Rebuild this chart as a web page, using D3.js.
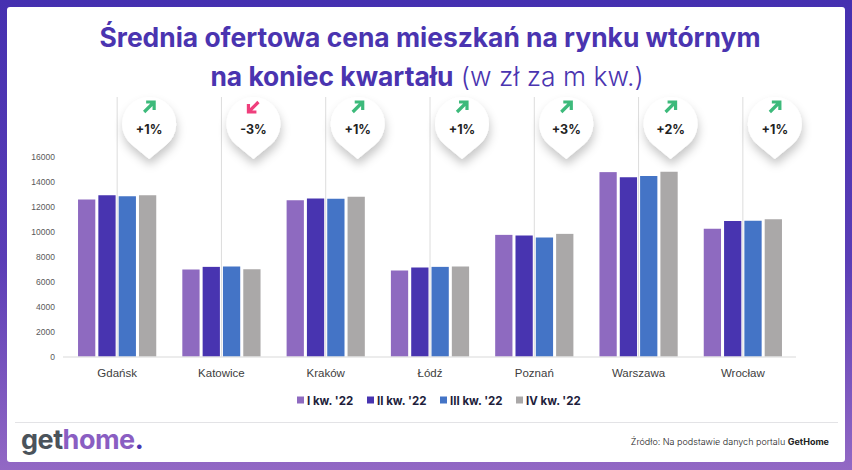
<!DOCTYPE html>
<html lang="pl">
<head>
<meta charset="utf-8">
<title>Średnia ofertowa cena mieszkań</title>
<script src="https://d3js.org/d3.v7.min.js"></script>
<style>
  body { margin: 0; background: #fff; }
  svg { display: block; font-family: "Inter", "Noto Sans", sans-serif; }
</style>
</head>
<body>
<svg id="chart" width="852" height="470"></svg>
<script>
// data
var cities = ["Gdańsk", "Katowice", "Kraków", "Łódź", "Poznań", "Warszawa", "Wrocław"];
var quarters = ["I kw. '22", "II kw. '22", "III kw. '22", "IV kw. '22"];
var q1 = [12560, 6960, 12500, 6880, 9730, 14750, 10220];
var q2 = [12900, 7170, 12640, 7120, 9680, 14340, 10840];
var q3 = [12820, 7200, 12620, 7170, 9520, 14440, 10860];
var q4 = [12900, 6980, 12780, 7200, 9810, 14780, 10980];
var changes = ["+1%", "-3%", "+1%", "+1%", "+3%", "+2%", "+1%"];
var yTicks = [0, 2000, 4000, 6000, 8000, 10000, 12000, 14000, 16000];

var series = [q1, q2, q3, q4];
var colors = ["#8e6ac0", "#4834b0", "#4474c6", "#aaa8a8"];

var svg = d3.select("#chart");
var defs = svg.append("defs");

// purple frame
var grad = defs.append("linearGradient").attr("id", "frame")
  .attr("x1", 0).attr("y1", 0).attr("x2", 0).attr("y2", 1);
grad.append("stop").attr("offset", "0%").attr("stop-color", "#4530b0");
grad.append("stop").attr("offset", "55%").attr("stop-color", "#5a3db6");
grad.append("stop").attr("offset", "100%").attr("stop-color", "#9268c4");

var shadow = defs.append("filter").attr("id", "pinShadow")
  .attr("x", "-50%").attr("y", "-50%").attr("width", "200%").attr("height", "200%");
shadow.append("feDropShadow").attr("dx", 1).attr("dy", 6).attr("stdDeviation", 5)
  .attr("flood-color", "#000").attr("flood-opacity", 0.22);

svg.append("rect").attr("width", 852).attr("height", 470).attr("fill", "url(#frame)");
svg.append("rect").attr("x", 7).attr("y", 7).attr("width", 838).attr("height", 455)
  .attr("rx", 3).attr("fill", "#fff");

// title
var title = svg.append("text").attr("text-anchor", "middle").attr("fill", "#4a34b0");
title.append("tspan").attr("x", 430).attr("y", 47).attr("font-size", 26.4).attr("font-weight", 700)
  .text("Średnia ofertowa cena mieszkań na rynku wtórnym");
var t2 = svg.append("text").attr("text-anchor", "middle").attr("fill", "#4a34b0")
  .attr("x", 427).attr("y", 86).attr("font-size", 26.4);
t2.append("tspan").attr("font-weight", 700).text("na koniec kwartału");
t2.append("tspan").attr("font-weight", 300).text(" (w zł za m kw.)");

// scales
var x0 = d3.scaleBand().domain(cities).range([65, 795]).paddingInner(0.25).paddingOuter(0.125);
var x1 = d3.scaleBand().domain(d3.range(quarters.length)).range([0, x0.bandwidth()]).paddingInner(0.15);
var y = d3.scaleLinear().domain([0, 16000]).range([356.5, 156.5]);

// y axis
var yAxis = svg.append("g").attr("transform", "translate(58,0)")
  .call(d3.axisLeft(y).tickValues(yTicks).tickSize(0).tickPadding(3).tickFormat(d3.format("d")));
yAxis.select(".domain").remove();
yAxis.selectAll("text").attr("fill", "#595959").attr("font-size", 8.5)
  .attr("font-family", "Liberation Sans, Arial, sans-serif");

// vertical guide lines from the pins
svg.append("g").selectAll("line").data(cities).join("line")
  .attr("x1", function(d){ return x0(d) + x0.bandwidth() / 2; })
  .attr("x2", function(d){ return x0(d) + x0.bandwidth() / 2; })
  .attr("y1", 97).attr("y2", y(0))
  .attr("stroke", "#dcdcdc").attr("stroke-width", 1);

// bars
var groups = svg.append("g").selectAll("g").data(cities).join("g")
  .attr("transform", function(d){ return "translate(" + x0(d) + ",0)"; });
groups.selectAll("rect")
  .data(function(d, i){ return series.map(function(s, k){ return {k: k, v: s[i]}; }); })
  .join("rect")
  .attr("x", function(d){ return x1(d.k); })
  .attr("y", function(d){ return y(d.v); })
  .attr("width", x1.bandwidth())
  .attr("height", function(d){ return y(0) - y(d.v); })
  .attr("fill", function(d){ return colors[d.k]; });

// baseline
svg.append("line").attr("x1", 63).attr("x2", 796).attr("y1", y(0) + 0.5).attr("y2", y(0) + 0.5)
  .attr("stroke", "#d9d9d9");

// x axis
var xAxis = svg.append("g").attr("transform", "translate(0," + y(0) + ")")
  .call(d3.axisBottom(x0).tickSize(0).tickPadding(12));
xAxis.select(".domain").remove();
xAxis.selectAll("text").attr("fill", "#404040").attr("font-size", 11.5)
  .attr("font-family", "Liberation Sans, Arial, sans-serif");

// pins with change
var r = 27;
function pinPath(cx, cy) {
  var d = r * 1.3, c = r / d, s = Math.sqrt(1 - c * c);
  return "M" + cx + "," + (cy + d) +
    "L" + (cx - r * s) + "," + (cy + r * c) +
    "A" + r + "," + r + " 0 1 1 " + (cx + r * s) + "," + (cy + r * c) + "Z";
}
var pins = svg.append("g").selectAll("g").data(cities).join("g")
  .attr("transform", function(d){ return "translate(" + (x0(d) + x0.bandwidth() / 2 + 32) + ",0)"; });
pins.append("path").attr("d", function(){ return pinPath(0, 124); })
  .attr("fill", "#fff").attr("filter", "url(#pinShadow)");
pins.append("path")
  .attr("d", function(d, i){
    return changes[i][0] === "-"
      ? "M5,-5L-4,4M-5,-3L-5,5L3,5"
      : "M-5,5L4,-4M-3,-5L5,-5L5,3";
  })
  .attr("transform", "translate(0,107)")
  .attr("fill", "none").attr("stroke-width", 3.2).attr("stroke-linecap", "butt")
  .attr("stroke", function(d, i){ return changes[i][0] === "-" ? "#ef3f7c" : "#3dba7b"; });
pins.append("text").attr("text-anchor", "middle").attr("y", 134)
  .attr("font-size", 12.5).attr("font-weight", 700).attr("fill", "#222")
  .text(function(d, i){ return changes[i]; });

// legend
var legendX = [297, 367, 440, 516];
var legend = svg.append("g").selectAll("g").data(quarters).join("g")
  .attr("transform", function(d, i){ return "translate(" + legendX[i] + ",400)"; });
legend.append("rect").attr("x", 0).attr("y", -3.5).attr("width", 7).attr("height", 7)
  .attr("fill", function(d, i){ return colors[i]; });
legend.append("text").attr("x", 10).attr("y", 4.5).attr("font-size", 11.5).attr("font-weight", 700)
  .attr("fill", "#1e1e3c").text(function(d){ return d; });

// footer
svg.append("line").attr("x1", 15).attr("x2", 838).attr("y1", 422.5).attr("y2", 422.5)
  .attr("stroke", "#e3e3e6");
var logo = svg.append("text").attr("x", 21).attr("y", 449).attr("font-size", 27)
  .attr("font-weight", 700).attr("letter-spacing", -0.5);
logo.append("tspan").attr("fill", "#4b535b").text("get");
logo.append("tspan").attr("fill", "#8a5ec2").text("home");
logo.append("tspan").attr("fill", "#4a36b2").text(".");

var src = svg.append("text").attr("x", 829).attr("y", 445).attr("text-anchor", "end")
  .attr("font-size", 9).attr("fill", "#222");
src.append("tspan").attr("font-weight", 300).text("Źródło: Na podstawie danych portalu ");
src.append("tspan").attr("font-weight", 700).text("GetHome");
</script>
</body>
</html>
